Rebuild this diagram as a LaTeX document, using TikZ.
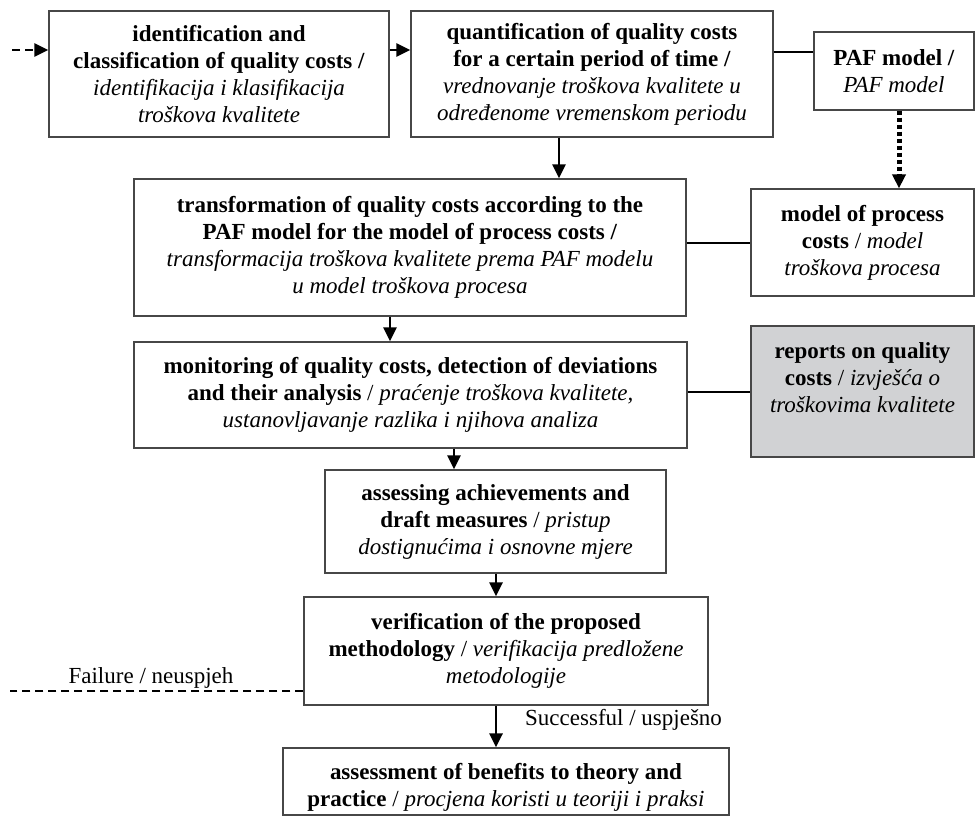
\documentclass[tikz,border=0pt]{standalone}
\usepackage{fontspec}
\setmainfont{Liberation Serif}
\usetikzlibrary{arrows.meta}
\newcommand{\fsz}{\fontsize{23}{27}\selectfont}
\tikzset{
  boxnode/.style={draw=black!72, line width=1.2pt, fill=white, align=center, inner sep=0pt, font=\fsz},
  arr/.style={line width=2.8pt, -{Triangle[length=14pt,width=13pt]}},
  plainline/.style={line width=1.7pt},
  dashline/.style={line width=2.5pt, dash pattern=on 8pt off 5pt},
  dotline/.style={line width=5pt, dash pattern=on 4pt off 3pt, -{Triangle[length=14pt,width=13pt]}},
  lbl/.style={font=\fsz, inner sep=0pt}
}
\begin{document}
\begin{tikzpicture}[x=1pt,y=-1pt]
\useasboundingbox (0,0) rectangle (975,816);
\fill[white] (0,0) rectangle (975,816);

\node[boxnode, minimum width=340pt, minimum height=126pt] (B1) at (219,74)
 {\textbf{identification and}\\\textbf{classification of quality costs /}\\\textit{identifikacija i klasifikacija}\\\textit{troškova kvalitete}};
\node[boxnode, minimum width=362pt, minimum height=126pt] (B2) at (592,74)
 {\textbf{quantification of quality costs}\\\textbf{for a certain period of time /}\\\textit{vrednovanje troškova kvalitete u}\\\textit{određenome vremenskom periodu}};
\node[boxnode, minimum width=160pt, minimum height=78pt] (PAF) at (894,71)
 {\textbf{PAF model /}\\\textit{PAF model}};
\node[boxnode, minimum width=223pt, minimum height=107pt] (MOD) at (862.5,242.5)
 {\textbf{model of process}\\\textbf{costs} / \textit{model}\\\textit{troškova procesa}};
\node[boxnode, minimum width=552pt, minimum height=137pt] (TR) at (410,247.5)
 {\textbf{transformation of quality costs according to the}\\\textbf{PAF model for the model of process costs /}\\\textit{transformacija troškova kvalitete prema PAF modelu}\\\textit{u model troškova procesa}};
\node[boxnode, minimum width=553pt, minimum height=106pt] (MON) at (410.5,395)
 {\textbf{monitoring of quality costs, detection of deviations}\\\textbf{and their analysis} / \textit{praćenje troškova kvalitete,}\\\textit{ustanovljavanje razlika i njihova analiza}};
\node[boxnode, fill={rgb,255:red,209;green,210;blue,212}, minimum width=223pt, minimum height=131pt] (REP) at (862.5,391.5)
 {\textbf{reports on quality}\\\textbf{costs} / \textit{izvješća o}\\\textit{troškovima kvalitete}\\\mbox{}};
\node[boxnode, minimum width=341pt, minimum height=103pt] (ASG) at (495.5,521.5)
 {\textbf{assessing achievements and}\\\textbf{draft measures} / \textit{pristup}\\\textit{dostignućima i osnovne mjere}};
\node[boxnode, minimum width=404pt, minimum height=108pt] (VER) at (506,651)
 {\textbf{verification of the proposed}\\\textbf{methodology} / \textit{verifikacija predložene}\\\textit{metodologije}};
\node[boxnode, minimum width=446pt, minimum height=67pt] (BEN) at (506,781.5)
 {\rule{0pt}{28pt}\textbf{assessment of benefits to theory and}\\\textbf{practice} / \textit{procjena koristi u teoriji i praksi}};

\node[lbl, anchor=base] (FAIL) at (151,683) {Failure / neuspjeh};
\node[lbl, anchor=base west] (SUCC) at (525,725) {Successful / uspješno};

% helper coordinates
\coordinate (start) at (12,50);
\coordinate (yTop) at (0,50);
\coordinate (yPaf) at (0,52);
\coordinate (x559) at (559,0);
\coordinate (x899) at (899,0);
\coordinate (yMod) at (0,243);
\coordinate (x390) at (390,0);
\coordinate (yRep) at (0,392);
\coordinate (x454) at (454,0);
\coordinate (x496) at (496,0);
\coordinate (failend) at (10,691);

\draw[dashline, -{Triangle[length=14pt,width=13pt]}] (start) -- (B1.west |- start);
\draw[arr] (B1.east |- yTop) -- (B2.west |- yTop);
\draw[plainline] (B2.east |- yPaf) -- (PAF.west |- yPaf);
\draw[arr] (B2.south -| x559) -- (TR.north -| x559);
\draw[dotline] (PAF.south -| x899) -- (MOD.north -| x899);
\draw[plainline] (TR.east |- yMod) -- (MOD.west |- yMod);
\draw[arr] (TR.south -| x390) -- (MON.north -| x390);
\draw[plainline] (MON.east |- yRep) -- (REP.west |- yRep);
\draw[arr] (MON.south -| x454) -- (ASG.north -| x454);
\draw[arr] (ASG.south -| x496) -- (VER.north -| x496);
\draw[arr] (VER.south -| x496) -- (BEN.north -| x496);
\draw[dashline] (VER.west |- failend) -- (failend);
\end{tikzpicture}
\end{document}
